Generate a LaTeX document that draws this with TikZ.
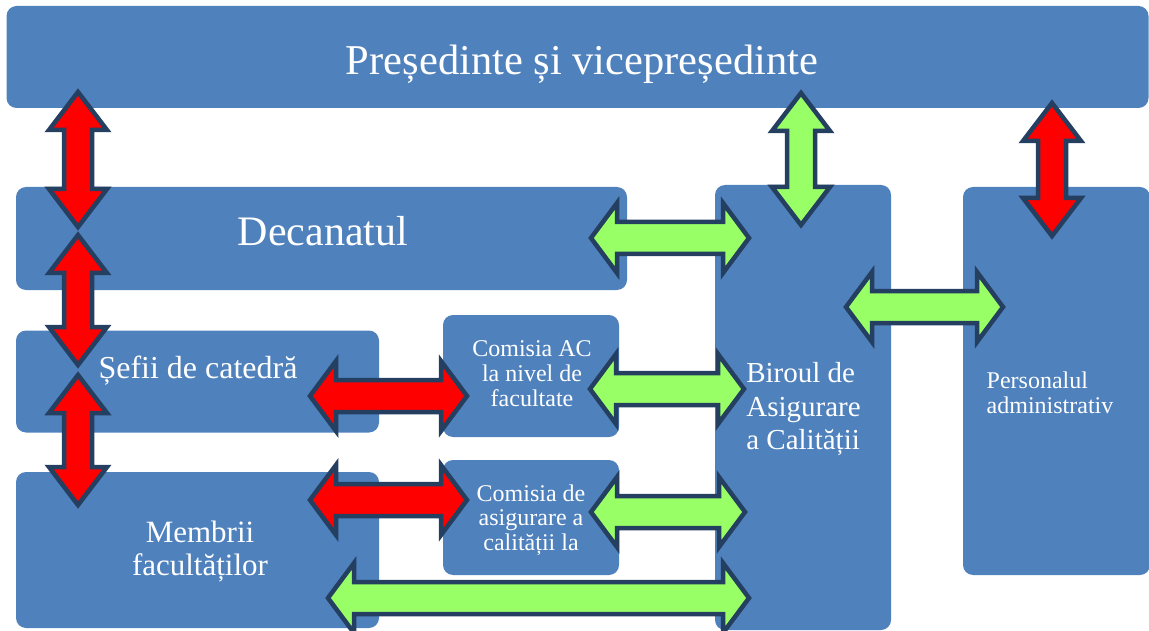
\documentclass[tikz,border=0pt]{standalone}
\usepackage{fontspec}
\setmainfont{Liberation Serif}
\definecolor{boxblue}{HTML}{4F81BD}
\definecolor{arrred}{HTML}{FF0000}
\definecolor{arrgreen}{HTML}{99FF66}
\definecolor{arredge}{HTML}{243F60}
% horizontal double block arrow: x1, x2, y, fill
\newcommand\HDblArrow[4]{%
  \filldraw[blockarrow, fill=#4]
    ({#1+3},#3) -- ({#1+29},{#3-35}) -- ({#1+29},{#3-16}) -- ({#2-29},{#3-16})
    -- ({#2-29},{#3-35}) -- ({#2-3},#3) -- ({#2-29},{#3+35}) -- ({#2-29},{#3+16})
    -- ({#1+29},{#3+16}) -- ({#1+29},{#3+35}) -- cycle;}
% vertical double block arrow: x, y1, y2, fill
\newcommand\VDblArrow[4]{%
  \filldraw[blockarrow, fill=#4]
    (#1,{#2+3}) -- ({#1+29},{#2+41}) -- ({#1+14},{#2+41}) -- ({#1+14},{#3-41})
    -- ({#1+29},{#3-41}) -- (#1,{#3-3}) -- ({#1-29},{#3-41}) -- ({#1-14},{#3-41})
    -- ({#1-14},{#2+41}) -- ({#1-29},{#2+41}) -- cycle;}
\begin{document}
\begin{tikzpicture}[x=1pt,y=-1pt,
  box/.style={fill=boxblue, draw=none, rounded corners=10pt, rectangle, inner sep=0pt},
  lbl/.style={text=white, inner sep=0pt},
  blockarrow/.style={draw=arredge, line width=4.5pt, line join=miter, miter limit=10}]
\useasboundingbox (0,0) rectangle (1149,631);
% boxes
\node[box, minimum width=1142pt, minimum height=102pt] (pres) at (577.5,57) {};
\node[box, minimum width=611pt, minimum height=103pt] (dec) at (321.5,238.5) {};
\node[box, minimum width=363pt, minimum height=102pt] (sef) at (197.5,381.5) {};
\node[box, minimum width=363pt, minimum height=156pt] (mem) at (197.5,550) {};
\node[box, minimum width=176pt, minimum height=122pt] (cac) at (531,376) {};
\node[box, minimum width=176pt, minimum height=115pt] (cde) at (531,517.5) {};
\node[box, minimum width=176pt, minimum height=445pt] (bir) at (803,407.5) {};
\node[box, minimum width=187pt, minimum height=388pt] (pers) at (1056.5,381) {};
% labels
\node[lbl, anchor=base, font=\fontsize{42.5}{46}\selectfont] (tpres) at (582,75) {Președinte și vicepreședinte};
\node[lbl, anchor=base, font=\fontsize{42}{46}\selectfont] (tdec) at (323,246) {Decanatul};
\node[lbl, anchor=base, font=\fontsize{32}{34}\selectfont] (tsef) at (198,378) {Șefii de catedră};
\node[lbl, align=center, font=\fontsize{31}{33}\selectfont] (tmem) at (200,552) {Membrii\\facultăților};
\node[lbl, align=center, font=\fontsize{24}{25}\selectfont] (tcac) at (532,374) {Comisia AC\\la nivel de\\facultate};
\node[lbl, align=center, font=\fontsize{24}{24.5}\selectfont] (tcde) at (531,519.8) {Comisia de\\asigurare a\\calității la};
\node[lbl, align=left, font=\fontsize{29}{33.5}\selectfont] (tbir) at (803.5,409.5) {Biroul de\\Asigurare\\a Calității};
\node[lbl, align=left, font=\fontsize{24}{25}\selectfont] (tpers) at (1050,392.3) {Personalul\\administrativ};
% arrows
\VDblArrow{78}{89}{230}{arrred}
\VDblArrow{78}{232}{368}{arrred}
\VDblArrow{78}{372}{508}{arrred}
\VDblArrow{801}{90}{228}{arrgreen}
\VDblArrow{1052}{100}{239}{arrred}
\HDblArrow{588}{752}{238}{arrgreen}
\HDblArrow{843}{1006}{307}{arrgreen}
\HDblArrow{307}{470}{396}{arrred}
\HDblArrow{587}{747}{389}{arrgreen}
\HDblArrow{307}{470}{500}{arrred}
\HDblArrow{588}{748}{512}{arrgreen}
\HDblArrow{325}{752}{598}{arrgreen}
\end{tikzpicture}
\end{document}
